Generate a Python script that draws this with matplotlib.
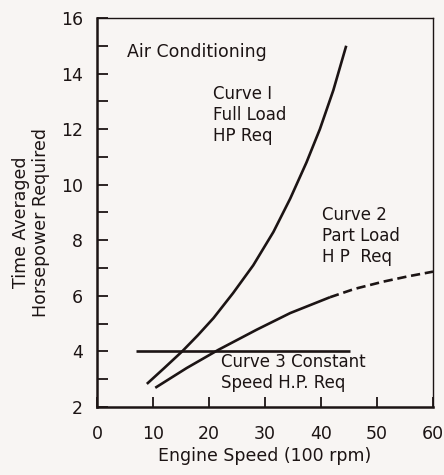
import numpy as np
import matplotlib
matplotlib.use('Agg')
import matplotlib.pyplot as plt
from matplotlib.ticker import MultipleLocator

# curve 1: full load HP required
full_x = [8.9, 12.0, 15.2, 18.0, 20.8, 24.3, 27.9, 31.5, 34.5, 37.4, 39.8, 42.2, 44.5]
full_y = [2.83, 3.4, 4.0, 4.58, 5.2, 6.1, 7.1, 8.3, 9.5, 10.8, 12.0, 13.4, 15.0]

# curve 2: part load HP required (solid, then dashed extension)
part_x = [10.4, 16.0, 21.7, 28.5, 34.5, 41.6]
part_y = [2.69, 3.4, 4.06, 4.78, 5.38, 5.95]
part_ext_x = [41.6, 46.0, 51.1, 55.5, 60.0]
part_ext_y = [5.95, 6.25, 6.51, 6.70, 6.87]

# curve 3: constant speed HP required
const_x = [7.0, 45.2]
const_y = [4.0, 4.0]

x_ticks = [0, 10, 20, 30, 40, 50, 60]
y_ticks = [2, 4, 6, 8, 10, 12, 14, 16]

bg = '#f8f5f3'
ink = '#1c1414'

plt.rcParams['font.family'] = ['DejaVu Sans']
fig = plt.figure(figsize=(4.44, 4.75), dpi=100, facecolor=bg)
ax = fig.add_axes([0.2185, 0.1432, 0.7568, 0.819])
ax.set_facecolor(bg)

ax.plot(full_x, full_y, color=ink, lw=1.9, solid_capstyle='butt')
ax.plot(part_x, part_y, color=ink, lw=1.9, solid_capstyle='butt')
ax.plot(part_ext_x, part_ext_y, color=ink, lw=1.9, dashes=(3.5, 1.8))
ax.plot(const_x, const_y, color=ink, lw=1.9, solid_capstyle='butt')

ax.set_xlim(0, 60)
ax.set_ylim(2, 16)
ax.set_xticks(x_ticks)
ax.set_yticks(y_ticks)
ax.yaxis.set_minor_locator(MultipleLocator(1))

for s in ax.spines.values():
    s.set_color(ink)
    s.set_linewidth(1.8)
ax.spines['top'].set_linewidth(1.0)
ax.spines['right'].set_linewidth(1.0)

ax.tick_params(axis='y', which='both', direction='in', length=8, width=1.3,
               color=ink, labelsize=12.5, pad=10, labelcolor=ink)
ax.tick_params(axis='x', which='both', direction='in', length=7, width=1.3,
               color=ink, labelsize=12.5, pad=13, labelcolor=ink)

ax.set_xlabel('Engine Speed (100 rpm)', fontsize=12.5, color=ink)
ax.xaxis.set_label_coords(0.5, -0.102)
ax.set_ylabel('Time Averaged\nHorsepower Required', fontsize=12.5, color=ink,
              linespacing=1.15)
ax.yaxis.set_label_coords(-0.14, 0.475)

ax.text(5.4, 14.78, 'Air Conditioning', fontsize=12.5, color=ink, va='center')
ax.text(20.7, 12.5, 'Curve I\nFull Load\nHP Req', fontsize=12, color=ink,
        va='center', linespacing=1.2)
ax.text(40.2, 8.16, 'Curve 2\nPart Load\nH P  Req', fontsize=12, color=ink,
        va='center', linespacing=1.2)
ax.text(22.2, 3.23, 'Curve 3 Constant\nSpeed H.P. Req', fontsize=12, color=ink,
        va='center', linespacing=1.2)

fig.savefig('out.png', dpi=100, facecolor=bg)
